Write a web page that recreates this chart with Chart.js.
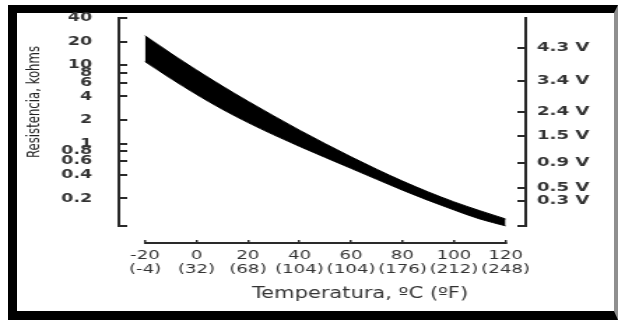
<!DOCTYPE html>
<html>
<head>
<meta charset="utf-8">
<script src="https://cdn.jsdelivr.net/npm/chart.js@4.4.1/dist/chart.umd.min.js"></script>
<style>
  html, body { margin: 0; padding: 0; background: #fff; }
  body { width: 618px; height: 320px; position: relative; overflow: hidden; }
  .frame {
    position: absolute; left: 8px; top: 5px; right: 0; bottom: 0;
    box-sizing: border-box;
    border-style: solid;
    border-width: 8px 4px 9px 9px;
    border-color: #000 #8f8f8f #000 #000;
  }
  /* the scanned chart is wider than it is tall, so stretch the canvas */
  .stretch { position: absolute; left: 0; top: 0; width: 442px; height: 320px; transform-origin: 0 0; transform: scaleX(1.3982); }
</style>
</head>
<body>
<div class="frame"></div>
<div class="stretch"><canvas id="chart" width="442" height="320"></canvas></div>
<script>
// bottom axis, degC with degF below
const tempTicks = [-20, 0, 20, 40, 60, 80, 100, 120];
const tempTicksF = ['(-4)', '(32)', '(68)', '(104)', '(104)', '(176)', '(212)', '(248)'];

// resistance axis, kohms (log)
const resMin = 0.0886;
const resMax = 40;
const resTicks = [0.2, 0.4, 0.6, 0.8, 1, 2, 4, 6, 8, 10, 20, 40];

// output voltage marks on the right, at the resistance they belong to
const voltRes = [0.185, 0.273, 0.569, 1.25, 2.53, 6.34, 16.6];
const voltLabels = ['0.3 V', '0.5 V', '0.9 V', '1.5 V', '2.4 V', '3.4 V', '4.3 V'];

// tolerance band of the sensor, every 10 degC
const bandTemp = [-20, -10, 0, 10, 20, 30, 40, 50, 60, 70, 80, 90, 100, 110, 120];
const bandHigh = [23.8, 14.2, 8.68, 5.42, 3.46, 2.25, 1.48, 0.995, 0.677, 0.469, 0.332, 0.241, 0.18, 0.139, 0.109];
const bandLow = [11.1, 6.76, 4.23, 2.74, 1.85, 1.29, 0.919, 0.664, 0.482, 0.349, 0.254, 0.188, 0.142, 0.109, 0.089];

const S = 618 / 442;
const ink = '#2a2a2a';

Chart.defaults.font.family = "'DejaVu Sans', sans-serif";
Chart.defaults.color = '#333';

function moveBox(scale, left, top, right, bottom) {
    scale.left = left;
    scale.top = top;
    scale.right = right;
    scale.bottom = bottom;
    scale.width = right - left;
    scale.height = bottom - top;
    scale.configure();
}

// the temperature axis sits below the resistance axes and is shorter
const placeAxes = {
    id: 'placeAxes',
    afterLayout(chart) {
        let s = chart.scales;
        moveBox(s.x, 145 / S, 243, 505.5 / S, 290);
        moveBox(s.xTitle, 157.5, 280, 357.5, 303.5);
        moveBox(s.yTitle, 17, 20, 40, 184);
    }
};

let points = (vals) => bandTemp.map((t, i) => ({x: t, y: vals[i]}));

new Chart(document.getElementById('chart'), {
    type: 'line',
    data: {
        datasets: [{
            label: 'max',
            data: points(bandHigh),
            borderColor: '#000',
            borderWidth: 1,
            pointRadius: 0,
            fill: false,
            cubicInterpolationMode: 'monotone',
            clip: 6
        }, {
            label: 'min',
            data: points(bandLow),
            borderColor: '#000',
            backgroundColor: '#000',
            borderWidth: 1,
            pointRadius: 0,
            fill: '-1',
            cubicInterpolationMode: 'monotone',
            clip: 6
        }]
    },
    options: {
        responsive: false,
        animation: false,
        layout: { padding: { top: 18 } },
        plugins: { legend: { display: false }, tooltip: { enabled: false } },
        scales: {
            x: {
                type: 'linear',
                min: -20,
                max: 120,
                afterBuildTicks: (axis) => { axis.ticks = tempTicks.map(v => ({value: v})); },
                afterFit: (axis) => { axis.height = 94; axis.paddingLeft = 0; axis.paddingRight = 0; },
                ticks: {
                    autoSkip: false,
                    maxRotation: 0,
                    padding: 9,
                    font: { size: 13, lineHeight: 1.05 },
                    callback: (v, i) => [String(tempTicks[i]), tempTicksF[i]]
                },
                grid: { drawOnChartArea: false, tickLength: -3, color: ink, lineWidth: 1.5 },
                border: { color: ink, width: 2 }
            },
            xTitle: {
                type: 'linear',
                position: 'bottom',
                min: 0,
                max: 1,
                afterFit: (axis) => { axis.height = 0; axis.paddingLeft = 0; axis.paddingRight = 0; },
                ticks: { display: false },
                grid: { display: false },
                border: { display: false },
                title: { display: true, text: 'Temperatura, ºC (ºF)', padding: 0, font: { size: 15 } }
            },
            y: {
                type: 'logarithmic',
                position: 'left',
                min: resMin,
                max: resMax,
                afterBuildTicks: (axis) => { axis.ticks = [resMin].concat(resTicks).map(v => ({value: v})); },
                afterFit: (axis) => { axis.width = 85; axis.paddingTop = 0; axis.paddingBottom = 0; },
                ticks: {
                    autoSkip: false,
                    padding: 25,
                    font: { size: 12.5, weight: 'bold' },
                    callback: (v, i) => i === 0 ? '' : String(resTicks[i - 1])
                },
                grid: { drawOnChartArea: false, tickLength: -6, color: ink, lineWidth: 2 },
                border: { color: ink, width: 2 }
            },
            y2: {
                type: 'logarithmic',
                position: 'right',
                min: resMin,
                max: resMax,
                afterBuildTicks: (axis) => { axis.ticks = [resMin].concat(voltRes).map(v => ({value: v})); },
                afterFit: (axis) => { axis.width = 66; axis.paddingTop = 0; axis.paddingBottom = 0; },
                ticks: {
                    autoSkip: false,
                    padding: 14,
                    font: { size: 13, weight: 'bold' },
                    callback: (v, i) => i === 0 ? '' : voltLabels[i - 1]
                },
                grid: { drawOnChartArea: false, tickLength: -6, color: ink, lineWidth: 2 },
                border: { color: ink, width: 2 }
            },
            yTitle: {
                type: 'linear',
                position: 'left',
                min: 0,
                max: 1,
                afterFit: (axis) => { axis.width = 0; axis.paddingTop = 0; axis.paddingBottom = 0; },
                ticks: { display: false },
                grid: { display: false },
                border: { display: false },
                title: {
                    display: true,
                    text: 'Resistencia, kohms',
                    padding: 0,
                    color: '#222',
                    font: { size: 13, family: "'Liberation Sans Narrow', 'DejaVu Sans Condensed', sans-serif" }
                }
            }
        }
    },
    plugins: [placeAxes]
});
</script>
</body>
</html>
